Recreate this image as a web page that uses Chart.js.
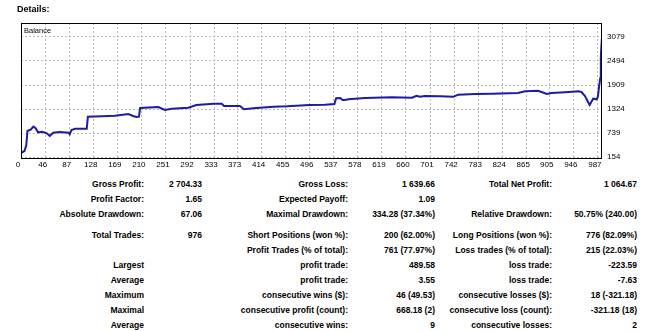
<!DOCTYPE html>
<html>
<head>
<meta charset="utf-8">
<script src="https://cdn.jsdelivr.net/npm/chart.js@4/dist/chart.umd.min.js"></script>
<style>
    body { margin: 0; background: #fff; font-family: "Liberation Sans", Arial, sans-serif; }
    #page { position: relative; width: 650px; height: 331px; overflow: hidden; }
    #title { position: absolute; left: 17px; top: 4px; font-size: 9px; font-weight: bold; color: #000; }
    #chartBox { position: absolute; left: 0; top: 0; width: 650px; height: 175px; }
    #stats { position: absolute; left: 0; top: 176px; border-collapse: collapse; font-size: 8.5px; font-weight: bold; color: #000; }
    #stats td { padding: 0; height: 15px; text-align: right; white-space: nowrap; }
    #stats tr.gap td { padding-top: 6px; }
</style>
</head>
<body>
<div id="page">
    <div id="chartBox"><canvas id="balanceChart" width="650" height="175"></canvas></div>
    <div id="title">Details:</div>
    <table id="stats"><tbody id="statsBody"></tbody></table>
</div>
<script>
// Chart data
const tradeNumbers = [5, 10, 13, 15, 21, 25, 29, 33, 40, 48, 53, 59, 70, 85, 87, 90, 96, 116, 118, 142, 164, 187, 195, 201,
    205, 207, 238, 249, 261, 289, 303, 332, 346, 350, 377, 384, 400, 434, 457, 496, 522, 538, 541, 548, 552, 556,
    562, 590, 636, 670, 678, 684, 692, 718, 741, 749, 778, 806, 851, 863, 885, 891, 900, 908, 931, 954, 959,
    965, 970, 973, 976, 979, 985, 987, 989, 991, 992, 994];
const balanceValues = [259, 301, 447, 788, 829, 893, 854, 756, 771, 732, 666, 747, 764, 747, 708, 812, 844, 844, 1136, 1146,
    1161, 1202, 1154, 1129, 1136, 1349, 1373, 1300, 1332, 1356, 1422, 1453, 1453, 1397, 1397, 1317, 1341, 1380,
    1390, 1422, 1429, 1446, 1585, 1593, 1544, 1544, 1561, 1593, 1610, 1600, 1648, 1624, 1641, 1633, 1624, 1673,
    1690, 1697, 1714, 1755, 1770, 1738, 1690, 1714, 1731, 1755, 1738, 1641, 1502, 1422, 1502, 1575, 1561, 1624,
    1868, 2072, 2599, 3086];
const xTickLabels = [0, 46, 87, 128, 169, 210, 251, 292, 333, 373, 414, 455, 496, 537, 578, 619, 660, 701, 742, 783,
    824, 865, 905, 946, 987];
const yTickLabels = [154, 739, 1324, 1909, 2494, 3079];

// Summary table rows: [label, value, label, value, label, value]
const statRows = [
    ['Gross Profit:', '2 704.33', 'Gross Loss:', '1 639.66', 'Total Net Profit:', '1 064.67'],
    ['Profit Factor:', '1.65', 'Expected Payoff:', '1.09', '', ''],
    ['Absolute Drawdown:', '67.06', 'Maximal Drawdown:', '334.28 (37.34%)', 'Relative Drawdown:', '50.75% (240.00)'],
    ['Total Trades:', '976', 'Short Positions (won %):', '200 (62.00%)', 'Long Positions (won %):', '776 (82.09%)'],
    ['', '', 'Profit Trades (% of total):', '761 (77.97%)', 'Loss trades (% of total):', '215 (22.03%)'],
    ['Largest', '', 'profit trade:', '489.58', 'loss trade:', '-223.59'],
    ['Average', '', 'profit trade:', '3.55', 'loss trade:', '-7.63'],
    ['Maximum', '', 'consecutive wins ($):', '46 (49.53)', 'consecutive losses ($):', '18 (-321.18)'],
    ['Maximal', '', 'consecutive profit (count):', '668.18 (2)', 'consecutive loss (count):', '-321.18 (18)'],
    ['Average', '', 'consecutive wins:', '9', 'consecutive losses:', '2']
];
const colWidths = [144, 58, 146, 87, 117, 85];

// Build the table
function buildStats() {
    const body = document.getElementById('statsBody');
    body.innerHTML = statRows.map((row, i) => `
        <tr class="${i === 3 ? 'gap' : ''}">
            ${row.map((cell, c) => `<td style="width:${colWidths[c]}px">${cell}</td>`).join('')}
        </tr>
    `).join('');
}

// Frame + "Balance" caption
const framePlugin = {
    id: 'frame',
    afterDraw(chart) {
        const { ctx, chartArea } = chart;
        ctx.save();
        ctx.strokeStyle = '#000';
        ctx.lineWidth = 1;
        ctx.strokeRect(Math.round(chartArea.left) + 0.5, Math.round(chartArea.top) + 0.5,
            Math.round(chartArea.right - chartArea.left) - 1, Math.round(chartArea.bottom - chartArea.top));
        ctx.fillStyle = '#000';
        ctx.font = '7.5px "Liberation Sans", Arial, sans-serif';
        ctx.textBaseline = 'top';
        ctx.fillText('Balance', chartArea.left + 3, chartArea.top + 4);
        ctx.restore();
    }
};

function createChart() {
    const ctx = document.getElementById('balanceChart').getContext('2d');
    const points = tradeNumbers.map((x, i) => ({ x: x, y: balanceValues[i] }));
    const tickFont = { family: '"Liberation Sans", Arial, sans-serif', size: 8 };

    new Chart(ctx, {
        type: 'line',
        data: {
            datasets: [{
                label: 'Balance',
                data: points,
                borderColor: '#1c1ca6',
                borderWidth: 2,
                pointRadius: 0,
                fill: false,
                tension: 0
            }]
        },
        options: {
            responsive: false,
            animation: false,
            layout: { padding: { left: 21, top: 23, right: 0, bottom: 0 } },
            plugins: {
                legend: { display: false },
                tooltip: { enabled: false }
            },
            scales: {
                x: {
                    type: 'linear',
                    min: 4,
                    max: 994,
                    afterBuildTicks: axis => {
                        axis.ticks = xTickLabels.map(v => ({ value: Math.max(v, axis.min) }));
                    },
                    afterFit: axis => { axis.height = 17; },
                    ticks: {
                        autoSkip: false,
                        maxRotation: 0,
                        labelOffset: -3,
                        padding: 2,
                        color: '#000',
                        font: tickFont,
                        callback: (value, index) => String(xTickLabels[index])
                    },
                    grid: { color: '#bdbdbd', drawTicks: false },
                    border: { display: false, dash: [2, 2] }
                },
                y: {
                    position: 'right',
                    min: 130,
                    max: 3420,
                    afterBuildTicks: axis => {
                        axis.ticks = yTickLabels.map(v => ({ value: v }));
                    },
                    afterFit: axis => { axis.width = 48; },
                    ticks: {
                        padding: 5,
                        color: '#000',
                        font: tickFont,
                        callback: value => String(value)
                    },
                    grid: { color: '#bdbdbd', drawTicks: false },
                    border: { display: false, dash: [2, 2] }
                }
            }
        },
        plugins: [framePlugin]
    });
}

document.addEventListener('DOMContentLoaded', () => {
    buildStats();
    createChart();
});
</script>
</body>
</html>
